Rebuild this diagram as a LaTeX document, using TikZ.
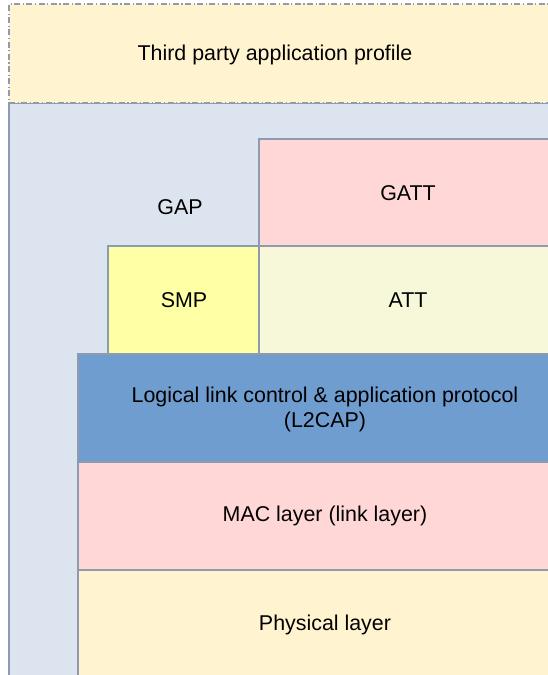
\documentclass[tikz,border=0pt]{standalone}
\usepackage{fontspec}
\setmainfont{Liberation Sans}
\definecolor{cream}{HTML}{FFF4CF}
\definecolor{gapbg}{HTML}{DCE4EF}
\definecolor{pinkfill}{HTML}{FFD7D7}
\definecolor{smpfill}{HTML}{FFFFA6}
\definecolor{attfill}{HTML}{F6F8D9}
\definecolor{lcapfill}{HTML}{6F9DCF}
\definecolor{edge}{HTML}{8E9AAE}
\begin{document}
\begin{tikzpicture}[x=1pt,y=-1pt,
  layer/.style={draw=edge, line width=1.2pt, rectangle, anchor=north west, inner sep=0pt, outer sep=0pt},
  lbl/.style={font=\fontsize{21.4}{25}\selectfont, inner sep=0pt, align=center}]
\useasboundingbox (0,0) rectangle (548,675);
\clip (0,0) rectangle (548,675);
\fill[white] (0,0) rectangle (548,675);
\node[layer, fill=gapbg, minimum width=560pt, minimum height=600pt] (gap) at (9,103) {};
\node[layer, fill=cream, dash pattern=on 6pt off 2.5pt on 1.2pt off 2.5pt, minimum width=560pt, minimum height=99pt] (third) at (9,4) {};
\node[lbl] (thirdt) at (275,55) {Third party application profile};
\node[lbl] (gapt) at (180,207) {GAP};
\node[layer, fill=pinkfill, minimum width=301pt, minimum height=107pt] (gatt) at (259,139) {};
\node[lbl] (gattt) at (408,193) {GATT};
\node[layer, fill=smpfill, minimum width=151pt, minimum height=108pt] (smp) at (108,246) {};
\node[lbl] (smpt) at (184,300) {SMP};
\node[layer, fill=attfill, minimum width=301pt, minimum height=108pt] (att) at (259,246) {};
\node[lbl] (attt) at (408,300) {ATT};
\node[layer, fill=lcapfill, minimum width=482pt, minimum height=108pt] (l2cap) at (78,354) {};
\node[lbl] (l2capt) at (325,409) {Logical link control \& application protocol\\(L2CAP)};
\node[layer, fill=pinkfill, minimum width=482pt, minimum height=108pt] (mac) at (78,462) {};
\node[lbl] (mact) at (325,516) {MAC layer (link layer)};
\node[layer, fill=cream, minimum width=482pt, minimum height=130pt] (phy) at (78,570) {};
\node[lbl] (phyt) at (325,625) {Physical layer};
\end{tikzpicture}
\end{document}
